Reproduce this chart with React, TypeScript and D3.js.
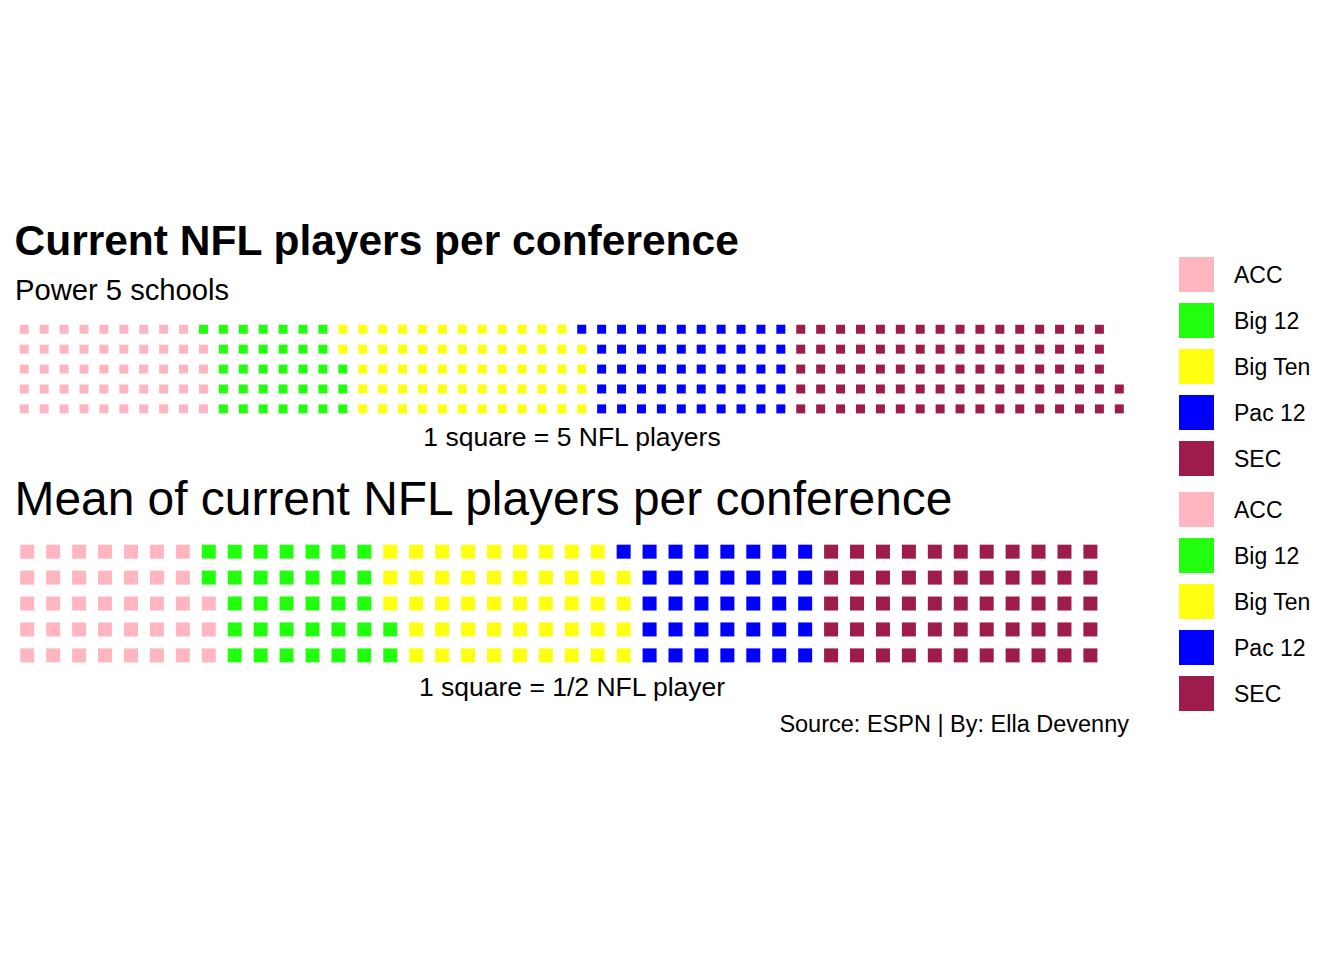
import React from "react";
import * as d3 from "d3";

const conferences = ["ACC", "Big 12", "Big Ten", "Pac 12", "SEC"];
const colors = ["#FFB6C1", "#22FF0E", "#FFFF10", "#0000FF", "#9D1C4B"];
// total current NFL players per conference (1 square = 5 players)
const totalPlayers = [245, 170, 305, 255, 410];
// mean current NFL players per school (1 square = 1/2 player)
const meanPlayers = [19, 17, 23.5, 18, 27.5];

const FONT = "'Liberation Sans', Arial, Helvetica, sans-serif";
const ROWS = 5;

type Tile = { k: number; color: string };

function tiles(squares: number[]): Tile[] {
  const out: Tile[] = [];
  let k = 0;
  squares.forEach((n, i) => {
    for (let j = 0; j < n; j++) out.push({ k: k++, color: colors[i] });
  });
  return out;
}

function Waffle({
  squares,
  left,
  top,
  cell,
  inner,
}: {
  squares: number[];
  left: number;
  top: number;
  cell: number;
  inner: number;
}) {
  const t = tiles(squares);
  const ncol = Math.ceil(t.length / ROWS);
  const x = d3.scaleLinear().domain([0, ncol]).range([left, left + ncol * cell]);
  const y = d3.scaleLinear().domain([0, ROWS]).range([top + ROWS * cell, top]);
  return (
    <g>
      {t.map((d) => {
        const c = Math.floor(d.k / ROWS);
        const r = d.k % ROWS;
        const cx = x(c + 0.5);
        const cy = y(r + 0.5);
        return (
          <rect
            key={d.k}
            x={cx - inner / 2}
            y={cy - inner / 2}
            width={inner}
            height={inner}
            fill={d.color}
          />
        );
      })}
    </g>
  );
}

function Legend({ top }: { top: number }) {
  return (
    <g>
      {conferences.map((c, i) => (
        <g key={c} transform={`translate(1179,${top + i * 46})`}>
          <rect width={35} height={35} fill={colors[i]} />
          <text x={55} y={25.5} fontSize={23} fontFamily={FONT} fill="#000">
            {c}
          </text>
        </g>
      ))}
    </g>
  );
}

export default function App() {
  const topSquares = totalPlayers.map((v) => v / 5);
  const meanSquares = meanPlayers.map((v) => v * 2);
  return (
    <svg
      width={1344}
      height={960}
      style={{ position: "absolute", left: 0, top: 0, background: "#fff" }}
    >
      <rect width={1344} height={960} fill="#fff" />
      <text x={14.5} y={255} fontSize={42.5} fontWeight="bold" fontFamily={FONT} fill="#000">
        Current NFL players per conference
      </text>
      <text x={15} y={299.5} fontSize={29.2} fontFamily={FONT} fill="#000">
        Power 5 schools
      </text>
      <Waffle squares={topSquares} left={14.3} top={319.3} cell={19.91} inner={9} />
      <text x={572} y={445.5} fontSize={26.5} textAnchor="middle" fontFamily={FONT} fill="#000">
        1 square = 5 NFL players
      </text>
      <text x={14.5} y={515} fontSize={47.9} fontFamily={FONT} fill="#000">
        Mean of current NFL players per conference
      </text>
      <Waffle squares={meanSquares} left={14.3} top={538.7} cell={25.93} inner={14} />
      <text x={572} y={695.5} fontSize={26.5} textAnchor="middle" fontFamily={FONT} fill="#000">
        1 square = 1/2 NFL player
      </text>
      <text x={1129} y={732} fontSize={23.5} textAnchor="end" fontFamily={FONT} fill="#000">
        Source: ESPN | By: Ella Devenny
      </text>
      <Legend top={257} />
      <Legend top={492} />
    </svg>
  );
}
